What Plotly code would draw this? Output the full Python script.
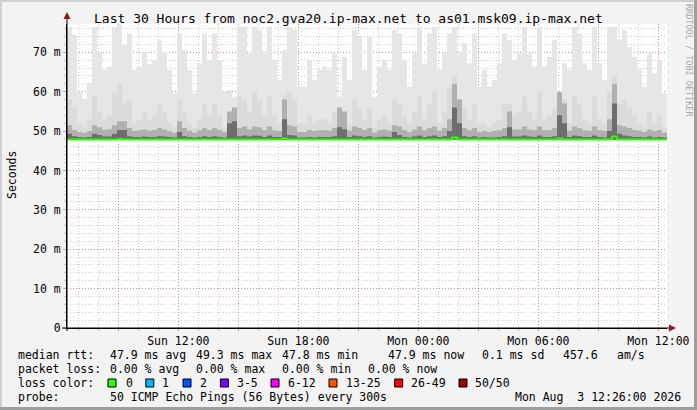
import plotly.graph_objects as go
from datetime import datetime, timedelta

# ---------------- data ----------------
title_text = "Last 30 Hours from noc2.gva20.ip-max.net to as01.msk09.ip-max.net"
range_start = datetime(2026, 8, 2, 6, 26)
range_end = datetime(2026, 8, 3, 12, 26)
step_minutes = 15

# smoke layers (ms), one value per 15-minute column
smoke_min = [
    47.8, 47.8, 47.8, 47.8, 47.8, 47.8, 47.8, 47.8, 47.8, 47.8, 47.8, 47.8, 47.8, 47.8, 47.8,
    47.8, 47.8, 47.8, 47.8, 47.8, 47.8, 47.8, 47.8, 47.8, 47.8, 47.8, 47.8, 47.8, 47.8, 47.8,
    47.8, 47.8, 47.8, 47.8, 47.8, 47.8, 47.8, 47.8, 47.8, 47.8, 47.8, 47.8, 47.8, 47.8, 47.8,
    47.8, 47.8, 47.8, 47.8, 47.8, 47.8, 47.8, 47.8, 47.8, 47.8, 47.8, 47.8, 47.8, 47.8, 47.8,
    47.8, 47.8, 47.8, 47.8, 47.8, 47.8, 47.8, 47.8, 47.8, 47.8, 47.8, 47.8, 47.8, 47.8, 47.8,
    47.8, 47.8, 47.8, 47.8, 47.8, 47.8, 47.8, 47.8, 47.8, 47.8, 47.8, 47.8, 47.8, 47.8, 47.8,
    47.8, 47.8, 47.8, 47.8, 47.8, 47.8, 47.8, 47.8, 47.8, 47.8, 47.8, 47.8, 47.8, 47.8, 47.8,
    47.8, 47.8, 47.8, 47.8, 47.8, 47.8, 47.8, 47.8, 47.8, 47.8, 47.8, 47.8, 47.8, 47.8, 47.8,
]
smoke_max = [
    76.5, 74.5, 60.0, 58.0, 62.0, 76.5, 70.0, 65.5, 66.4, 76.5, 77.0, 72.0, 74.8, 65.5, 66.4,
    70.0, 67.0, 68.0, 73.0, 70.0, 65.5, 59.6, 74.8, 70.6, 65.5, 59.6, 67.2, 74.8, 68.0, 74.8,
    68.0, 60.0, 60.4, 58.7, 76.5, 76.5, 69.7, 76.5, 75.7, 69.7, 76.5, 68.1, 63.0, 70.6, 76.5,
    75.7, 61.3, 61.3, 68.1, 63.0, 65.5, 66.4, 65.5, 69.7, 58.7, 68.9, 63.0, 75.7, 74.0, 65.5,
    74.0, 58.7, 66.4, 68.1, 65.5, 75.7, 74.8, 68.1, 61.3, 69.7, 76.5, 67.2, 74.8, 76.5, 65.5,
    69.7, 74.8, 76.5, 69.7, 72.3, 67.2, 74.8, 61.3, 65.5, 61.3, 63.0, 67.2, 74.8, 73.1, 68.1,
    69.7, 76.5, 69.7, 66.4, 76.5, 66.4, 68.9, 73.1, 58.7, 67.2, 65.5, 76.5, 74.8, 67.2, 65.5,
    76.5, 67.2, 63.0, 76.5, 76.5, 73.1, 75.7, 71.4, 68.9, 65.5, 61.3, 69.7, 64.7, 68.1, 59.6,
]
smoke_p90 = [
    58, 56, 52, 51, 53, 59, 55, 53, 54, 60, 62, 57, 58, 52, 53,
    55, 53, 54, 57, 55, 52, 51, 58, 55, 52, 51, 53, 57, 54, 57,
    54, 51, 54, 53, 59, 58, 55, 60, 58, 54, 59, 54, 52, 59, 60,
    58, 52, 52, 54, 52, 53, 53, 52, 55, 54, 55, 52, 58, 56, 53,
    56, 51, 53, 54, 52, 58, 57, 54, 52, 55, 59, 53, 57, 60, 52,
    55, 61, 64, 58, 56, 53, 57, 52, 52, 51, 52, 53, 57, 57, 54,
    55, 59, 55, 53, 60, 53, 54, 56, 58, 58, 52, 59, 57, 53, 52,
    59, 53, 52, 60, 64, 57, 58, 56, 54, 52, 51, 55, 52, 54, 51,
]
smoke_p75 = [
    51.5, 50.3, 49.8, 49.6, 50.0, 51.5, 51.0, 50.3, 50.5, 51.5, 52.5, 52.5, 50.8, 50.0, 50.2,
    50.4, 50.1, 50.3, 50.8, 50.4, 50.0, 49.6, 52.5, 50.8, 50.1, 49.6, 50.2, 50.8, 50.3, 50.8,
    50.3, 49.8, 55.0, 56.0, 50.8, 51.2, 50.4, 51.2, 51.0, 50.3, 51.2, 50.2, 50.0, 58.0, 51.5,
    51.2, 49.8, 49.8, 50.3, 50.0, 50.2, 50.2, 50.1, 50.8, 56.0, 55.0, 50.1, 51.2, 50.8, 50.3,
    50.8, 49.6, 50.2, 50.4, 50.1, 51.5, 51.2, 50.3, 49.8, 50.4, 51.2, 50.2, 50.8, 51.2, 50.1,
    50.8, 53.0, 62.0, 58.0, 50.8, 50.2, 50.8, 49.8, 50.1, 49.8, 50.0, 50.2, 50.8, 55.0, 50.4,
    50.4, 51.2, 50.4, 50.2, 51.2, 50.2, 50.3, 50.8, 60.0, 57.0, 50.1, 51.2, 50.8, 50.2, 50.1,
    51.2, 50.3, 50.0, 53.0, 62.0, 51.5, 51.2, 50.8, 50.3, 50.1, 49.8, 50.4, 50.0, 50.3, 49.6,
]
smoke_p60 = [
    49.3, 48.7, 48.5, 48.4, 48.5, 49.3, 49.0, 48.6, 48.6, 49.3, 50.3, 50.3, 48.7, 48.5, 48.5,
    48.6, 48.5, 48.5, 48.7, 48.6, 48.5, 48.4, 49.8, 48.7, 48.5, 48.4, 48.5, 48.7, 48.5, 48.7,
    48.5, 48.4, 52.0, 52.5, 48.7, 48.9, 48.6, 48.9, 48.8, 48.5, 48.9, 48.5, 48.5, 53.0, 49.0,
    48.9, 48.4, 48.4, 48.5, 48.4, 48.5, 48.5, 48.5, 48.7, 51.0, 50.5, 48.5, 48.9, 48.7, 48.5,
    48.7, 48.4, 48.5, 48.6, 48.5, 49.8, 49.0, 48.5, 48.4, 48.6, 48.9, 48.5, 48.7, 48.9, 48.5,
    48.7, 50.0, 56.0, 52.0, 48.7, 48.5, 48.7, 48.4, 48.5, 48.4, 48.4, 48.5, 48.7, 51.0, 48.6,
    48.6, 48.9, 48.6, 48.5, 48.9, 48.5, 48.5, 48.7, 54.0, 52.0, 48.5, 48.9, 48.7, 48.5, 48.5,
    48.9, 48.5, 48.4, 50.0, 57.0, 49.3, 48.9, 48.7, 48.5, 48.5, 48.4, 48.6, 48.4, 48.5, 48.4,
]
median_rtt = [
    47.9, 47.9, 47.9, 47.9, 47.9, 47.9, 47.9, 47.9, 47.9, 47.9, 48.0, 47.9, 47.9, 47.9, 47.9,
    47.9, 47.9, 47.9, 47.9, 47.9, 47.9, 47.9, 47.9, 47.9, 47.9, 47.9, 47.9, 47.9, 47.9, 47.9,
    47.9, 47.9, 47.9, 47.9, 47.9, 47.9, 47.9, 47.9, 47.9, 47.9, 47.9, 47.9, 47.9, 48.1, 47.9,
    47.9, 47.9, 47.9, 47.9, 47.9, 47.9, 47.9, 47.9, 47.9, 47.9, 47.9, 47.9, 47.9, 47.9, 47.9,
    47.9, 47.9, 47.9, 47.9, 47.9, 47.9, 47.9, 47.9, 47.9, 47.9, 47.9, 47.9, 47.9, 47.9, 47.9,
    47.9, 47.9, 48.4, 47.9, 47.9, 47.9, 47.9, 47.9, 47.9, 47.9, 47.9, 47.9, 47.9, 47.9, 47.9,
    47.9, 47.9, 47.9, 47.9, 47.9, 47.9, 47.9, 47.9, 48.1, 47.9, 47.9, 47.9, 47.9, 47.9, 47.9,
    47.9, 47.9, 47.9, 47.9, 48.6, 47.9, 47.9, 47.9, 47.9, 47.9, 47.9, 47.9, 47.9, 47.9, 47.9,
]

x_tick_vals = ["2026-08-02 09:00", "2026-08-02 12:00", "2026-08-02 15:00", "2026-08-02 18:00",
               "2026-08-02 21:00", "2026-08-03 00:00", "2026-08-03 03:00", "2026-08-03 06:00",
               "2026-08-03 09:00", "2026-08-03 12:00"]
x_tick_text = ["", "Sun 12:00", "", "Sun 18:00", "", "Mon 00:00", "", "Mon 06:00", "", "Mon 12:00"]
y_tick_vals = [0, 10, 20, 30, 40, 50, 60, 70]
y_tick_text = ["0", "10 m", "20 m", "30 m", "40 m", "50 m", "60 m", "70 m"]

rtt_stats = ["47.9 ms avg", "49.3 ms max", "47.8 ms min", "47.9 ms now", "0.1 ms sd", "457.6", "am/s"]
loss_stats = ["0.00 % avg", "0.00 % max", "0.00 % min", "0.00 % now"]
loss_labels = ["0", "1", "2", "3-5", "6-12", "13-25", "26-49", "50/50"]
loss_colors = ["#26ff00", "#00b8ff", "#0059ff", "#7e00ff", "#ff00ff", "#ff5500", "#ff0000", "#a10000"]
probe_text = "50 ICMP Echo Pings (56 Bytes) every 300s"
stamp_text = "Mon Aug  3 12:26:00 2026"

# ---------------- layout constants ----------------
W, H = 697, 410
PL, PR, PT, PB = 67, 667, 24, 328
FONT = "DejaVu Sans Mono"


def px(p):
    return (p - PL) / (PR - PL)


def py(p):
    return (PB - p) / (PB - PT)


step = timedelta(minutes=step_minutes)
edges = [range_start + step * k for k in range(len(smoke_max) + 1)]

fig = go.Figure()

layers = [
    (smoke_max, "#E6E6E6"),
    (smoke_p90, "#DBDBDB"),
    (smoke_p75, "#B0B0B0"),
    (smoke_p60, "#6E6E6E"),
]
for top, color in layers:
    fig.add_trace(go.Scatter(x=edges, y=smoke_min + [smoke_min[-1]], mode="lines",
                             line=dict(width=0, shape="hv"), showlegend=False, hoverinfo="skip"))
    fig.add_trace(go.Scatter(x=edges, y=top + [top[-1]], mode="lines", fill="tonexty",
                             fillcolor=color, line=dict(width=0, shape="hv"),
                             showlegend=False, hoverinfo="skip"))

fig.add_trace(go.Scatter(x=edges, y=median_rtt + [median_rtt[-1]], mode="lines",
                         line=dict(color="#26ff00", width=2, shape="hv"),
                         showlegend=False, hoverinfo="skip"))

grid_major = "rgba(235,70,70,0.45)"
grid_minor = "rgba(130,130,130,0.40)"
dash_pat = "1px,2px"

fig.update_xaxes(
    type="date", range=[range_start, range_end],
    tickvals=x_tick_vals, ticktext=x_tick_text,
    showgrid=True, gridcolor=grid_major, griddash=dash_pat, gridwidth=1,
    minor=dict(dtick=3600000, tick0="2026-08-02 00:00", showgrid=True,
               gridcolor=grid_minor, griddash=dash_pat, gridwidth=1,
               ticks="outside", ticklen=2, tickcolor=grid_minor),
    ticks="outside", ticklen=2, tickcolor=grid_major,
    showline=True, linecolor="black", linewidth=1,
    tickfont=dict(family=FONT, size=11.5, color="black"),
    zeroline=False, fixedrange=True, automargin=False,
)
fig.update_yaxes(
    range=[0, 77.2], tickvals=y_tick_vals, ticktext=y_tick_text,
    showgrid=True, gridcolor=grid_major, griddash=dash_pat, gridwidth=1,
    minor=dict(dtick=2, showgrid=True, gridcolor=grid_minor, griddash=dash_pat, gridwidth=1,
               ticks="outside", ticklen=2, tickcolor=grid_minor),
    ticks="outside", ticklen=3, tickcolor=grid_major,
    showline=True, linecolor="black", linewidth=1,
    tickfont=dict(family=FONT, size=11.5, color="black"),
    zeroline=False, fixedrange=True, automargin=False,
)

shapes = []
# frame
shapes.append(dict(type="rect", xref="paper", yref="paper", x0=px(0), x1=px(W), y0=py(0), y1=py(2),
                   fillcolor="#CFCFCF", line=dict(width=0), layer="below"))
shapes.append(dict(type="rect", xref="paper", yref="paper", x0=px(0), x1=px(2), y0=py(0), y1=py(H),
                   fillcolor="#CFCFCF", line=dict(width=0), layer="below"))
shapes.append(dict(type="rect", xref="paper", yref="paper", x0=px(W - 3), x1=px(W), y0=py(0), y1=py(H),
                   fillcolor="#9E9E9E", line=dict(width=0), layer="below"))
shapes.append(dict(type="rect", xref="paper", yref="paper", x0=px(0), x1=px(W), y0=py(H - 3), y1=py(H),
                   fillcolor="#9E9E9E", line=dict(width=0), layer="below"))
# axis extensions and arrows
shapes.append(dict(type="line", xref="paper", yref="paper", x0=0, x1=0, y0=py(PB + 3), y1=py(18),
                   line=dict(color="black", width=1)))
shapes.append(dict(type="line", xref="paper", yref="paper", x0=px(62), x1=px(670), y0=0, y1=0,
                   line=dict(color="black", width=1)))
shapes.append(dict(type="path", xref="paper", yref="paper",
                   path=f"M {px(63.5)},{py(19)} L {px(70.5)},{py(19)} L {px(67)},{py(12)} Z",
                   fillcolor="#8B1A1A", line=dict(width=0)))
shapes.append(dict(type="path", xref="paper", yref="paper",
                   path=f"M {px(669)},{py(324.5)} L {px(669)},{py(331.5)} L {px(676)},{py(328)} Z",
                   fillcolor="#8B1A1A", line=dict(width=0)))

annotations = []


def label(text, x, y, size=11.5, color="black", anchor="left", angle=0):
    annotations.append(dict(text=text.replace("  ", " \u00a0"), x=px(x), y=py(y), xref="paper", yref="paper",
                            showarrow=False, xanchor=anchor, yanchor="middle", textangle=angle,
                            font=dict(family=FONT, size=size, color=color)))


label(title_text, 348, 18, size=13, anchor="center")
label("Seconds", 12, 175, anchor="center", angle=-90)
label("RRDTOOL / TOBI OETIKER", 689, 60, size=8.5, color="#A8A8A8", anchor="center", angle=90)

row_y = [355, 369, 383, 397]
rtt_x = [108, 193.8, 280, 385.8, 480, 561, 614.7]
loss_x = [108, 193.8, 280, 365.8]
box_x = [108, 145.8, 183, 220.4, 271, 329, 394.7, 459]
box_label_x = [123.6, 160, 197.8, 234.7, 285.8, 343.6, 408.9, 472.9]

label("median rtt:", 16, row_y[0])
for t, x in zip(rtt_stats, rtt_x):
    label(t, x, row_y[0])
label("packet loss:", 16, row_y[1])
for t, x in zip(loss_stats, loss_x):
    label(t, x, row_y[1])
label("loss color:", 16, row_y[2])
for lab, col, bx, lx in zip(loss_labels, loss_colors, box_x, box_label_x):
    shapes.append(dict(type="rect", xref="paper", yref="paper", x0=px(bx), x1=px(bx + 8),
                       y0=py(row_y[2] + 4), y1=py(row_y[2] - 4), fillcolor=col,
                       line=dict(color="black", width=1)))
    label(lab, lx, row_y[2])
label("probe:", 16, row_y[3])
label(probe_text, 108, row_y[3])
label(stamp_text, 513, row_y[3])

fig.update_layout(
    width=W, height=H,
    margin=dict(l=PL, r=W - PR, t=PT, b=H - PB, pad=0, autoexpand=False),
    paper_bgcolor="#F3F3F3", plot_bgcolor="white",
    showlegend=False, shapes=shapes, annotations=annotations,
    hovermode=False,
)

fig.write_html("out.html", config={"displayModeBar": False},
               post_script="document.body.style.margin='0';document.body.style.padding='0';"
                           "document.body.style.overflow='hidden';")
